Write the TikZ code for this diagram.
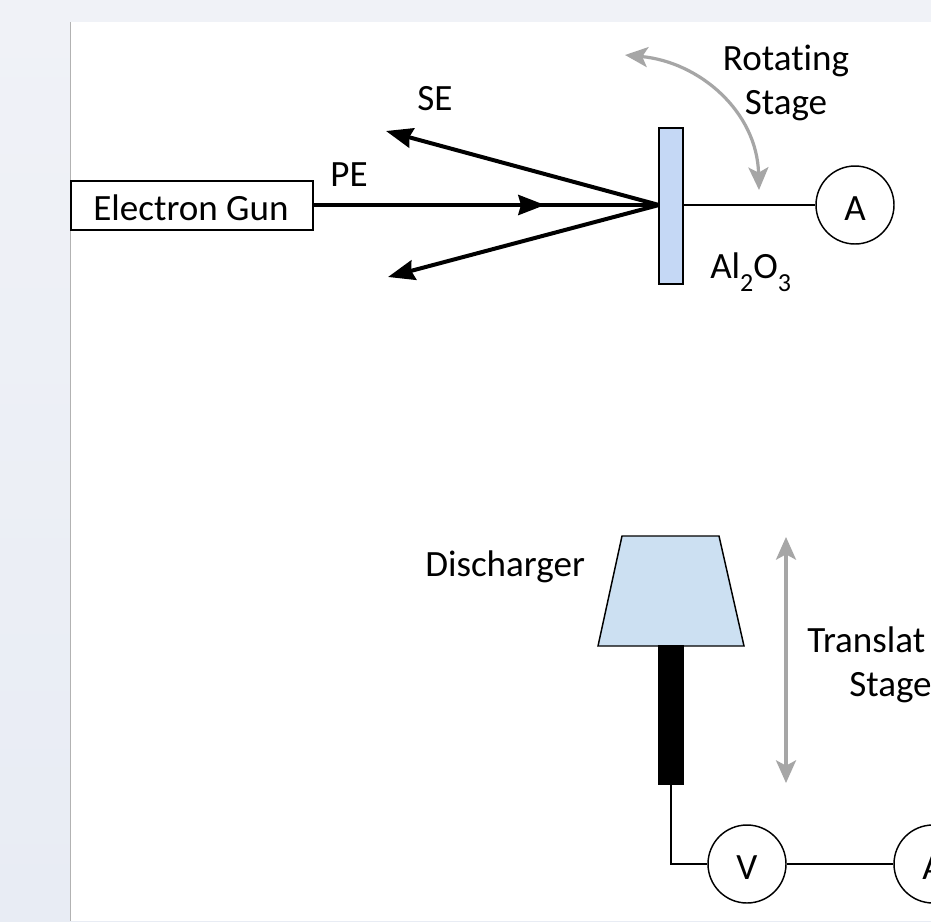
\documentclass[tikz,border=0pt]{standalone}
\usepackage{fontspec}
\setmainfont{Carlito}[Ligatures=CommonOff]
\usepackage{tikz}
\usetikzlibrary{arrows.meta}
\definecolor{platecolor}{HTML}{C5D8F5}
\definecolor{conecolor}{HTML}{CCE0F2}
\definecolor{stagecolor}{HTML}{A6A6A6}
\definecolor{paneltop}{HTML}{F0F2F7}
\definecolor{panelbottom}{HTML}{E8ECF4}
\newcommand{\lowsub}[1]{\raisebox{-0.75ex}{\fontsize{19.5pt}{20pt}\selectfont #1}}
\newcommand{\metertext}[1]{\raisebox{-2.5pt}[\height][0pt]{#1}}

\begin{document}
\begin{tikzpicture}[
        x=0.75pt, y=-0.75pt,
        font=\fontsize{27.8pt}{33pt}\selectfont,
        label/.style={inner sep=0pt},
        wire/.style={draw, line width=1.1pt},
        part/.style={draw, line width=1.1pt, inner sep=0pt},
        meter/.style={circle, draw, fill=white, line width=1.1pt, minimum size=58.5pt, inner sep=0pt},
        beam/.style={draw, line width=3pt, -{Stealth[length=20pt, width=15pt, inset=2pt]}},
        stage/.style={draw=stagecolor, line width=2.4pt, {Stealth[length=17pt, width=15pt, inset=4pt]}-{Stealth[length=17pt, width=15pt, inset=4pt]}}
    ]
        \useasboundingbox (0, 0) rectangle (931, 921);
        \shade[top color=paneltop, bottom color=panelbottom] (0, 0) rectangle (931, 921);
        \fill[white] (71, 22) rectangle (931, 921);
        \draw[black!30, line width=0.8pt] (70.5, 22) -- (70.5, 921);

        \node[part, fill=white, minimum width=181.5pt, minimum height=36.75pt] (gun) at (192, 205.5) {};
        \node[label] (gunlabel) at (191, 208) {Electron Gun};
        \node[part, fill=platecolor, minimum width=18pt, minimum height=117pt] (plate) at (671, 206) {};
        \node[meter] (ampone) at (855, 205) {\metertext{A}};

        \coordinate (setop) at (386, 131);
        \coordinate (sebottom) at (388, 277);
        \coordinate (pemid) at (545, 205);
        \coordinate (pebase) at (530, 205);
        \coordinate (plateface) at (659, 205);
        \coordinate (stagestart) at (625, 55);
        \coordinate (stageend) at (759, 190);

        \draw[beam] (gun.east |- plateface) -- (pemid);
        \draw[line width=3pt] (pebase) -- (plateface);
        \draw[beam] (plateface) -- (setop);
        \draw[beam] (plateface) -- (sebottom);
        \draw[wire] (plate.east |- ampone) -- (ampone);
        \draw[stage] (stagestart) .. controls (700, 62) and (757, 112) .. (stageend);

        \node[label] (pe) at (349, 175) {PE};
        \node[label] (se) at (435, 98.5) {SE};
        \node[label, align=center] (rotating) at (786, 83) {Rotating\\Stage};
        \node[label, anchor=west] (alumina) at (710, 272) {Al\lowsub{2}O\lowsub{3}};

        \filldraw[fill=conecolor, line width=1.1pt, line join=miter] (622, 536) -- (719, 536) -- (744, 646) -- (598, 646) -- cycle;
        \node[part, fill=black, minimum width=18.75pt, minimum height=103.5pt] (rod) at (671, 715) {};
        \node[meter] (volt) at (747, 864) {\metertext{V}};
        \node[meter] (amptwo) at (933, 864) {\metertext{A}};
        \node[label, anchor=west] (dischargerlabel) at (425, 567) {Discharger};
        \node[label, anchor=west] (translat) at (807, 640) {Translat};
        \node[label, anchor=west] (translatstage) at (849, 688) {Stage};

        \coordinate (corner) at (671, 864);
        \coordinate (liftup) at (786, 537);
        \coordinate (liftdown) at (786, 783);

        \draw[wire] (rod.south) -- (corner) -- (volt);
        \draw[wire] (volt) -- (amptwo);
        \draw[stage] (liftup) -- (liftdown);
    \end{tikzpicture}
\end{document}
